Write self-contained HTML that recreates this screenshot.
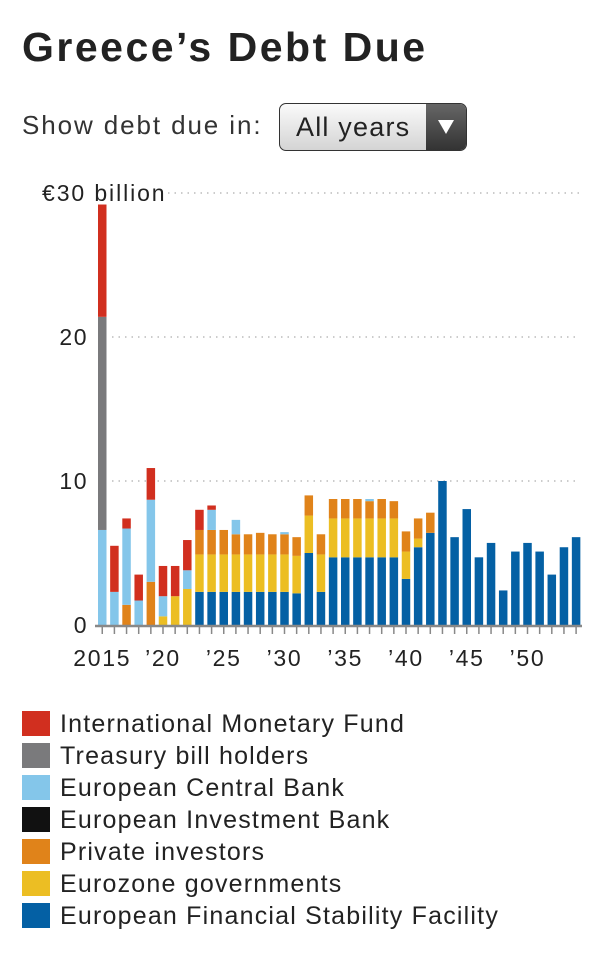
<!DOCTYPE html>
<html><head><meta charset="utf-8">
<style>
body{margin:0;width:608px;height:968px;background:#fff;font-family:"Liberation Sans",sans-serif;color:#222;overflow:hidden;position:relative}
#title{position:absolute;left:22px;top:24px;font-size:41px;font-weight:bold;letter-spacing:2.5px;margin:0;color:#222}
#show{position:absolute;left:22px;top:110px;font-size:26px;color:#333;letter-spacing:1.9px}
#dd{position:absolute;left:279px;top:103px;width:186px;height:46px;border:1px solid #333;border-radius:7px;background:linear-gradient(#fafafa,#d4d4d4);overflow:hidden}
#dd span{position:absolute;left:16px;top:8px;font-size:27px;color:#222;letter-spacing:1.2px}
#dd i{position:absolute;right:0;top:0;width:40px;height:46px;background:linear-gradient(#666,#333)}
#dd i:after{content:"";position:absolute;left:12px;top:16px;border-left:8px solid transparent;border-right:8px solid transparent;border-top:14px solid #fff}
svg{position:absolute;left:0;top:0}
.leg{position:absolute;left:22px;font-size:25px;color:#222;letter-spacing:1.2px}
.leg b{display:inline-block;width:28px;height:25px;vertical-align:-4px;margin-right:10px}
</style></head><body>
<h1 id="title">Greece’s Debt Due</h1>
<div id="show">Show debt due in:</div>
<div id="dd"><span>All years</span><i></i></div>
<svg id="chart" width="608" height="690"></svg>
<div class="leg" style="top:710px"><b style="background:#d12f1f"></b>International Monetary Fund</div>
<div class="leg" style="top:742px"><b style="background:#7a7a7c"></b>Treasury bill holders</div>
<div class="leg" style="top:774px"><b style="background:#84c6ea"></b>European Central Bank</div>
<div class="leg" style="top:806px"><b style="background:#111"></b>European Investment Bank</div>
<div class="leg" style="top:838px"><b style="background:#e0831a"></b>Private investors</div>
<div class="leg" style="top:870px"><b style="background:#ecbe23"></b>Eurozone governments</div>
<div class="leg" style="top:902px"><b style="background:#0460a4"></b>European Financial Stability Facility</div>
<script>
const years=[];for(let y=2015;y<=2054;y++)years.push(y);
const efsf=[0,0,0,0,0,0,0,0,2.3,2.3,2.3,2.3,2.3,2.3,2.3,2.3,2.2,5.0,2.3,4.7,4.7,4.7,4.7,4.7,4.7,3.2,5.4,6.4,10.0,6.1,8.05,4.7,5.7,2.4,5.1,5.7,5.1,3.5,5.4,6.1];
const eurozone=[0,0,0,0,0,0.6,2.0,2.5,2.6,2.6,2.6,2.6,2.6,2.6,2.6,2.6,2.6,2.6,2.6,2.7,2.7,2.7,2.7,2.7,2.7,1.9,0.6,0,0,0,0,0,0,0,0,0,0,0,0,0];
const priv=[0,0,1.4,0,3.0,0,0,0,1.7,1.7,1.7,1.4,1.4,1.5,1.4,1.4,1.3,1.4,1.4,1.35,1.35,1.35,1.2,1.35,1.2,1.4,1.4,1.4,0,0,0,0,0,0,0,0,0,0,0,0];
const eib=new Array(40).fill(0);
const ecb=[6.6,2.3,5.3,1.7,5.7,1.4,0,1.3,0,1.4,0,1.0,0,0,0,0.15,0,0,0,0,0,0,0.15,0,0,0,0,0,0,0,0,0,0,0,0,0,0,0,0,0];
const tbill=[14.8,0,0,0,0,0,0,0,0,0,0,0,0,0,0,0,0,0,0,0,0,0,0,0,0,0,0,0,0,0,0,0,0,0,0,0,0,0,0,0];
const imf=[7.8,3.2,0.7,1.8,2.2,2.1,2.1,2.1,1.4,0.3,0,0,0,0,0,0,0,0,0,0,0,0,0,0,0,0,0,0,0,0,0,0,0,0,0,0,0,0,0,0];
const yTicks=[0,10,20,30];
const xLabels=[[2015,"2015"],[2020,"’20"],[2025,"’25"],[2030,"’30"],[2035,"’35"],[2040,"’40"],[2045,"’45"],[2050,"’50"]];
const series=[["efsf",efsf,"#0460a4"],["eurozone",eurozone,"#ecbe23"],["private",priv,"#e0831a"],["eib",eib,"#111"],["ecb",ecb,"#84c6ea"],["tbill",tbill,"#7a7a7c"],["imf",imf,"#d12f1f"]];
const NS="http://www.w3.org/2000/svg",svg=document.getElementById('chart');
const y0=625,ppu=14.4;
const Y=v=>y0-v*ppu;
const X=yr=>98+(yr-2015)*12.15;
function mk(t,a){const e=document.createElementNS(NS,t);for(const k in a)e.setAttribute(k,a[k]);svg.appendChild(e);return e;}
yTicks.forEach(v=>{
  if(v>0){const l=mk('line',{x1:v==30?168:112,x2:580,y1:Y(v),y2:Y(v),stroke:'#bbb','stroke-width':1.5,'stroke-dasharray':'1.5 5'});
  
  }
  const t=mk('text',{x:v==30?42:88,y:Y(v)+8,'font-size':23,'text-anchor':v==30?'start':'end',fill:'#222','letter-spacing':v==30?1.9:1.5});
  t.textContent=v==30?'€30 billion':String(v);
  
  
});
years.forEach((yr,i)=>{
  let acc=0;
  series.forEach(([n,arr,c])=>{const v=arr[i];if(v>0){const r=mk('rect',{x:X(yr),y:Y(acc+v),width:8.5,height:v*ppu,fill:c});
    
    acc+=v;}});
  const tk=mk('line',{x1:X(yr)+4.25,x2:X(yr)+4.25,y1:y0,y2:y0+9,stroke:'#888','stroke-width':1.5});
  
  
});
const ax=mk('line',{x1:95,x2:582,y1:y0+1,y2:y0+1,stroke:'#888','stroke-width':2.5});


xLabels.forEach(([yr,s])=>{const t=mk('text',{x:X(yr)+4.25,y:666,'font-size':23,'text-anchor':'middle',fill:'#222','letter-spacing':1.7});t.textContent=s;
  
  });
</script>
</body></html>
